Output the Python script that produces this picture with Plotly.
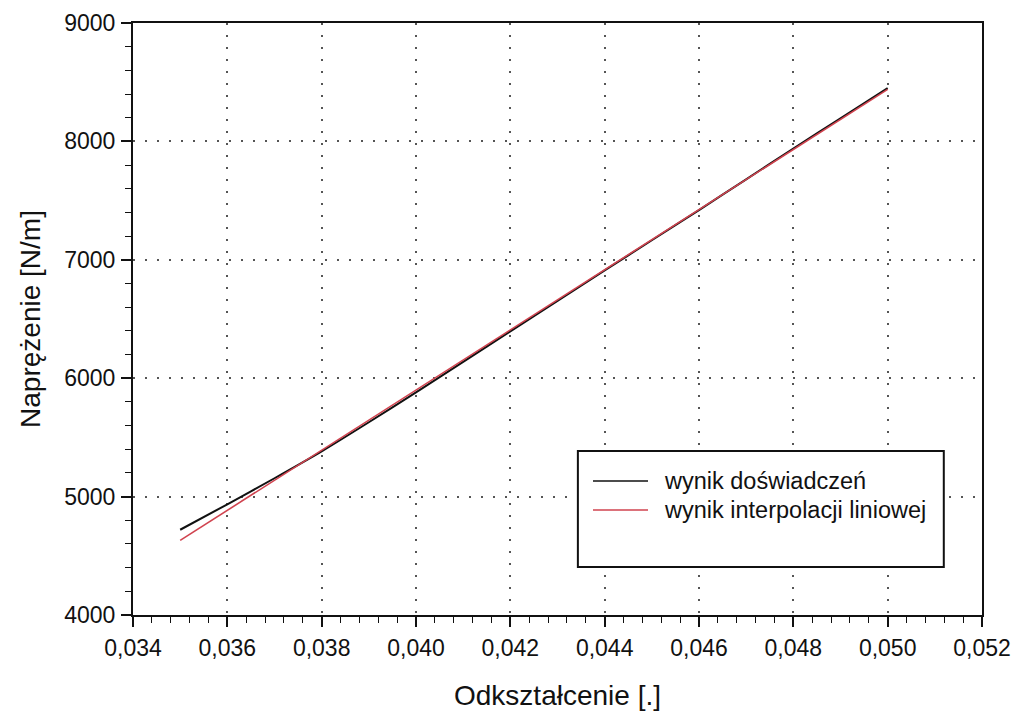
import plotly.graph_objects as go

# Measured stress-strain data
strain_exp = [0.035, 0.036, 0.037, 0.038, 0.039, 0.040, 0.041, 0.042,
              0.043, 0.044, 0.045, 0.046, 0.047, 0.048, 0.049, 0.050]
stress_exp = [4720, 4935, 5155, 5382, 5628, 5880, 6138, 6395,
              6652, 6910, 7165, 7420, 7680, 7940, 8195, 8450]

# Linear interpolation result (end points of the fitted line)
strain_fit = [0.035, 0.050]
stress_fit = [4630, 8440]

x_ticks = [0.034, 0.036, 0.038, 0.040, 0.042, 0.044, 0.046, 0.048, 0.050, 0.052]
x_tick_labels = ["0,034", "0,036", "0,038", "0,040", "0,042", "0,044",
                 "0,046", "0,048", "0,050", "0,052"]
y_ticks = [4000, 5000, 6000, 7000, 8000, 9000]

names = ["wynik doświadczeń", "wynik interpolacji liniowej"]
colors = ["#111111", "#d0434f"]

FONT = "Liberation Sans, Arial, sans-serif"
INK = "#111111"

fig = go.Figure()
fig.add_trace(go.Scatter(x=strain_exp, y=stress_exp, mode="lines", name=names[0],
                         line=dict(color=colors[0], width=2, shape="spline",
                                   smoothing=0.6),
                         showlegend=False))
fig.add_trace(go.Scatter(x=strain_fit, y=stress_fit, mode="lines", name=names[1],
                         line=dict(color=colors[1], width=1.6), showlegend=False))

axis_common = dict(
    showline=True, linecolor=INK, linewidth=2, mirror=True,
    ticks="outside", ticklen=10, tickwidth=1.5, tickcolor=INK,
    showgrid=True, gridcolor="#555555", gridwidth=2, griddash="2px,10px",
    zeroline=False, automargin=False,
    tickfont=dict(family=FONT, size=23, color=INK),
)

fig.update_xaxes(
    range=[0.034, 0.052], tickvals=x_ticks, ticktext=x_tick_labels,
    minor=dict(dtick=0.0004, ticks="outside", ticklen=6, tickwidth=1.2,
               tickcolor=INK, showgrid=False),
    title=dict(text="Odkształcenie [.]", font=dict(family=FONT, size=28, color=INK),
               standoff=26),
    ticklabelstandoff=1,
    **axis_common,
)
fig.update_yaxes(
    range=[4000, 9000], tickvals=y_ticks,
    minor=dict(dtick=200, ticks="outside", ticklen=6, tickwidth=1.2,
               tickcolor=INK, showgrid=False),
    title=dict(text="Naprężenie [N/m]", font=dict(family=FONT, size=28, color=INK),
               standoff=15),
    ticklabelstandoff=1,
    **axis_common,
)

# Legend drawn as a framed box with line samples
shapes = [dict(type="rect", xref="paper", yref="paper", x0=0.524, x1=0.955,
               y0=0.081, y1=0.277, line=dict(color=INK, width=2),
               fillcolor="white", layer="above")]
annotations = []
legend_rows = [0.2264, 0.1774]
for name, color, yrow in zip(names, colors, legend_rows):
    shapes.append(dict(type="line", xref="paper", yref="paper",
                       x0=0.5418, x1=0.6066, y0=yrow, y1=yrow,
                       line=dict(color=color, width=1.6), layer="above"))
    annotations.append(dict(text=name, xref="paper", yref="paper", x=0.623, y=yrow,
                            xanchor="left", yanchor="middle", showarrow=False,
                            font=dict(family=FONT, size=23.5, color=INK)))

fig.update_layout(
    width=1014, height=713,
    margin=dict(l=133, r=32, t=23, b=98),
    paper_bgcolor="white", plot_bgcolor="white",
    shapes=shapes, annotations=annotations,
    showlegend=False,
)

fig.write_html("out.html")
